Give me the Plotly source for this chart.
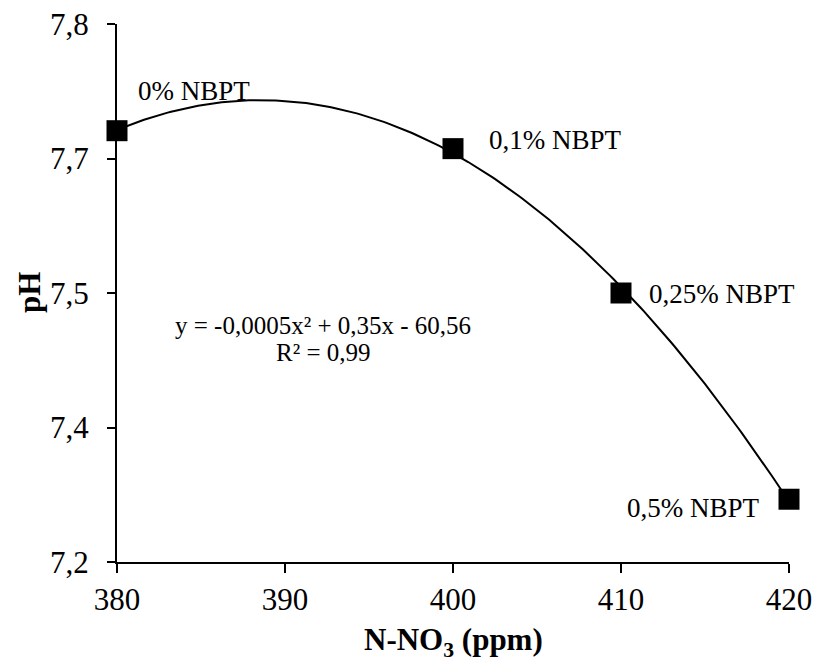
import numpy as np
import plotly.graph_objects as go

# Data
n_no3 = [380, 400, 410, 420]
ph = [7.681, 7.661, 7.50, 7.27]
labels = ["0% NBPT", "0,1% NBPT", "0,25% NBPT", "0,5% NBPT"]
x_ticks = [380, 390, 400, 410, 420]
y_tickvals = [7.2, 7.35, 7.5, 7.65, 7.8]
y_ticktext = ["7,2", "7,4", "7,5", "7,7", "7,8"]
equation_text = "y = -0,0005x² + 0,35x - 60,56"
r2_text = "R² = 0,99"
x_title = "<b>N-NO<sub>3</sub> (ppm)</b>"
y_title = "<b>pH</b>"

# Quadratic trendline fitted to the data (as in the source chart)
coef = np.polyfit(n_no3, ph, 2)
xs = np.linspace(min(n_no3), max(n_no3), 200)
ys = np.polyval(coef, xs)

SERIF = "Liberation Serif, Times New Roman, serif"
PLOT_H = 538
PLOT_W = 672

fig = go.Figure()
fig.add_trace(go.Scatter(x=xs, y=ys, mode="lines",
                         line=dict(color="black", width=2),
                         hoverinfo="skip", showlegend=False, cliponaxis=False))
fig.add_trace(go.Scatter(x=n_no3, y=ph, mode="markers",
                         marker=dict(symbol="square", size=21, color="black"),
                         showlegend=False, cliponaxis=False))

# point labels
shifts = [(19, 40, "left"), (34, 9, "left"), (26, -1, "left"), (-27, -9, "right")]
for xv, yv, lab, (dx, dy, anc) in zip(n_no3, ph, labels, shifts):
    fig.add_annotation(x=xv, y=yv, text=lab, showarrow=False,
                       xanchor=anc, yanchor="middle", xshift=dx, yshift=dy,
                       font=dict(family=SERIF, size=27, color="black"))

fig.add_annotation(xref="paper", yref="paper", x=(323 - 117) / PLOT_W, y=(562 - 326) / PLOT_H,
                   text=equation_text, showarrow=False, xanchor="center", yanchor="middle",
                   font=dict(family=SERIF, size=25, color="black"))
fig.add_annotation(xref="paper", yref="paper", x=(323 - 117) / PLOT_W, y=(562 - 352) / PLOT_H,
                   text=r2_text, showarrow=False, xanchor="center", yanchor="middle",
                   font=dict(family=SERIF, size=25, color="black"))

# axis titles
fig.add_annotation(xref="paper", yref="paper", x=0.5, y=(562 - 642) / PLOT_H,
                   text=x_title, showarrow=False, xanchor="center", yanchor="middle",
                   font=dict(family=SERIF, size=31, color="black"))
fig.add_annotation(xref="paper", yref="paper", x=(29 - 117) / PLOT_W, y=0.5,
                   text=y_title, showarrow=False, xanchor="center", yanchor="middle",
                   textangle=-90, font=dict(family=SERIF, size=31, color="black"))

fig.update_layout(
    width=814, height=661,
    margin=dict(l=117, r=25, t=24, b=99),
    paper_bgcolor="white", plot_bgcolor="white",
    font=dict(family=SERIF, color="black"),
    xaxis=dict(range=[380, 420], tickvals=x_ticks, ticks="outside", ticklen=9,
               tickwidth=2, tickcolor="black", showline=True, linecolor="black",
               linewidth=2, showgrid=False, zeroline=False, automargin=False,
               tickfont=dict(family=SERIF, size=31, color="black")),
    yaxis=dict(range=[7.2, 7.8], tickvals=y_tickvals, ticktext=y_ticktext,
               ticks="outside", ticklen=8, tickwidth=2, tickcolor="black",
               showline=True, linecolor="black", linewidth=2, showgrid=False,
               zeroline=False, ticklabelstandoff=12, automargin=False,
               tickfont=dict(family=SERIF, size=31, color="black")),
)

fig.write_html("out.html")
